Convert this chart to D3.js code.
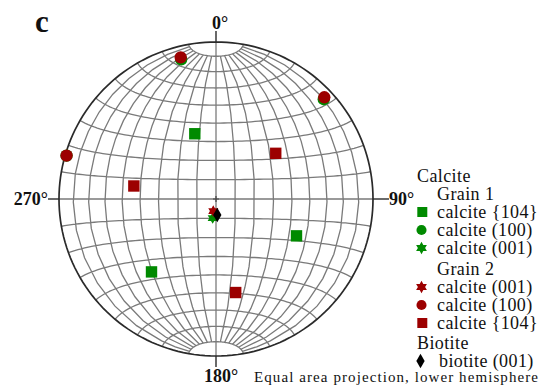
<!DOCTYPE html>
<html>
<head>
<meta charset="utf-8">
<script src="https://cdn.jsdelivr.net/npm/d3@7"></script>
<style>
  body { margin: 0; background: #fff; }
  svg { display: block; }
</style>
</head>
<body>
<svg width="539" height="385"></svg>
<script>
// [trend, plunge] in degrees
const grain1Calcite104 = [[342, 54], [114.6, 43], [221.5, 38]];
const grain1Calcite100 = [[346, 9.2], [47.2, 7.2], [286.2, 1]];
const grain1Calcite001 = [[189.9, 80]];
const grain2Calcite001 = [[192.7, 83.6]];
const grain2Calcite100 = [[346, 7.8], [46.8, 6], [286.2, 1]];
const grain2Calcite104 = [[52.6, 50.4], [279, 46], [168.1, 39]];
const biotite001 = [[175.4, 81.7]];

const directionLabels = ['0°', '90°', '180°', '270°'];
const legendRows = [
  { label: 'Calcite', kind: 'head' },
  { label: 'Grain 1', kind: 'sub' },
  { label: 'calcite {104}', kind: 'item', shape: 'square', color: 'green' },
  { label: 'calcite (100)', kind: 'item', shape: 'circle', color: 'green' },
  { label: 'calcite (001)', kind: 'item', shape: 'star', color: 'green' },
  { label: 'Grain 2', kind: 'sub' },
  { label: 'calcite (001)', kind: 'item', shape: 'star', color: 'red' },
  { label: 'calcite (100)', kind: 'item', shape: 'circle', color: 'red' },
  { label: 'calcite {104}', kind: 'item', shape: 'square', color: 'red' },
  { label: 'Biotite', kind: 'head' },
  { label: 'biotite (001)', kind: 'item', shape: 'diamond', color: 'black' }
];

const colors = { green: '#008a00', red: '#9c0000', black: '#000' };
const FONT = '"Liberation Serif", "Times New Roman", Times, serif';

const svg = d3.select('svg');

const cx = 216, cy = 199, R = 157;

const projection = d3.geoAzimuthalEqualArea()
  .rotate([0, 0])
  .clipAngle(90)
  .scale(R / Math.SQRT2)
  .translate([cx, cy]);
const path = d3.geoPath(projection);

// six-pointed star
const hexagram = {
  draw(context, size) {
    const r = Math.sqrt(size) * 0.72;
    const ri = r / Math.sqrt(3);
    for (let i = 0; i < 12; i++) {
      const a = i * Math.PI / 6 - Math.PI / 2;
      const rr = i % 2 === 0 ? r : ri;
      const x = rr * Math.cos(a), y = rr * Math.sin(a);
      if (i === 0) context.moveTo(x, y); else context.lineTo(x, y);
    }
    context.closePath();
  }
};

const shapes = {
  square: d3.symbolSquare,
  circle: d3.symbolCircle,
  star: hexagram,
  diamond: d3.symbolDiamond
};

// trend/plunge -> lon/lat in the projection's frame
const toLonLat = ([trend, plunge]) => {
  const c = (90 - plunge) * Math.PI / 180;
  const t = trend * Math.PI / 180;
  const lat = Math.asin(Math.sin(c) * Math.cos(t));
  const lon = Math.atan2(Math.sin(t) * Math.sin(c), Math.cos(c));
  return [lon * 180 / Math.PI, lat * 180 / Math.PI];
};

// net
svg.append('path')
  .datum(d3.geoGraticule()())
  .attr('d', path)
  .attr('fill', 'none')
  .attr('stroke', '#7a7a7a')
  .attr('stroke-width', 1.3);

svg.append('path')
  .datum({ type: 'Sphere' })
  .attr('d', path)
  .attr('fill', 'none')
  .attr('stroke', '#2a2a2a')
  .attr('stroke-width', 1.7);

// direction ticks and labels
const dirs = [
  { a: 0, len: 11, x: cx + 4, y: cy - R - 13, anchor: 'middle' },
  { a: 90, len: 16, x: cx + R + 16, y: cy + 6, anchor: 'start' },
  { a: 180, len: 11, x: cx + 5, y: 382, anchor: 'middle' },
  { a: 270, len: 11, x: cx - R - 11, y: cy + 6, anchor: 'end' }
];
dirs.forEach((d, i) => {
  const s = Math.sin(d.a * Math.PI / 180), c = -Math.cos(d.a * Math.PI / 180);
  svg.append('line')
    .attr('x1', cx + s * R).attr('y1', cy + c * R)
    .attr('x2', cx + s * (R + d.len)).attr('y2', cy + c * (R + d.len))
    .attr('stroke', '#2a2a2a').attr('stroke-width', 1.4);
  svg.append('text')
    .attr('x', d.x).attr('y', d.y)
    .attr('text-anchor', d.anchor)
    .attr('font-family', FONT)
    .attr('font-size', '18px')
    .attr('font-weight', 'bold')
    .attr('fill', '#111')
    .text(directionLabels[i]);
});

// center cross
svg.append('path')
  .attr('d', `M${cx - 3},${cy}H${cx + 3}M${cx},${cy - 3}V${cy + 3}`)
  .attr('stroke', '#444').attr('stroke-width', 1.2);

// data points
const series = [
  { data: grain1Calcite104, shape: 'square', color: 'green', size: 130 },
  { data: grain1Calcite100, shape: 'circle', color: 'green', size: 120 },
  { data: grain2Calcite100, shape: 'circle', color: 'red', size: 120 },
  { data: grain2Calcite104, shape: 'square', color: 'red', size: 130 },
  { data: grain1Calcite001, shape: 'star', color: 'green', size: 65 },
  { data: grain2Calcite001, shape: 'star', color: 'red', size: 65 },
  { data: biotite001, shape: 'diamond', color: 'black', size: 60 }
];

series.forEach(s => {
  svg.append('g').selectAll('path').data(s.data)
    .enter().append('path')
    .attr('transform', d => {
      const p = projection(toLonLat(d));
      return `translate(${p[0]},${p[1]})`;
    })
    .attr('d', d3.symbol(shapes[s.shape], s.size))
    .attr('fill', colors[s.color]);
});

// panel letter
svg.append('text')
  .attr('x', 35).attr('y', 32)
  .attr('font-family', FONT)
  .attr('font-size', '31px')
  .attr('font-weight', 'bold')
  .attr('fill', '#111')
  .text('c');

// legend
const legendG = svg.append('g');
let y = 182;
legendRows.forEach((row, i) => {
  if (i > 0) y += 18;
  if (row.label === 'Grain 2') y += 3;
  if (row.label === 'Biotite') y += 2;
  const x = row.kind === 'head' ? 417 : (row.shape === 'diamond' ? 439 : 437);
  legendG.append('text')
    .attr('x', x).attr('y', y)
    .attr('font-family', FONT)
    .attr('font-size', '18px')
    .attr('letter-spacing', '0.4px')
    .attr('fill', '#111')
    .text(row.label);
  if (row.kind === 'item') {
    const sizes = { square: 100, circle: 80, star: 75, diamond: 60 };
    const sx = { square: 422.3, circle: 421.5, star: 421.5, diamond: 420.5 };
    legendG.append('path')
      .attr('transform', `translate(${sx[row.shape]},${y - 6})`)
      .attr('d', d3.symbol(shapes[row.shape], sizes[row.shape]))
      .attr('fill', colors[row.color]);
  }
});

svg.append('text')
  .attr('x', 254).attr('y', 382)
  .attr('font-family', FONT)
  .attr('font-size', '15px')
  .attr('textLength', 284)
  .attr('lengthAdjust', 'spacing')
  .attr('fill', '#111')
  .text('Equal area projection, lower hemisphere');
</script>
</body>
</html>
